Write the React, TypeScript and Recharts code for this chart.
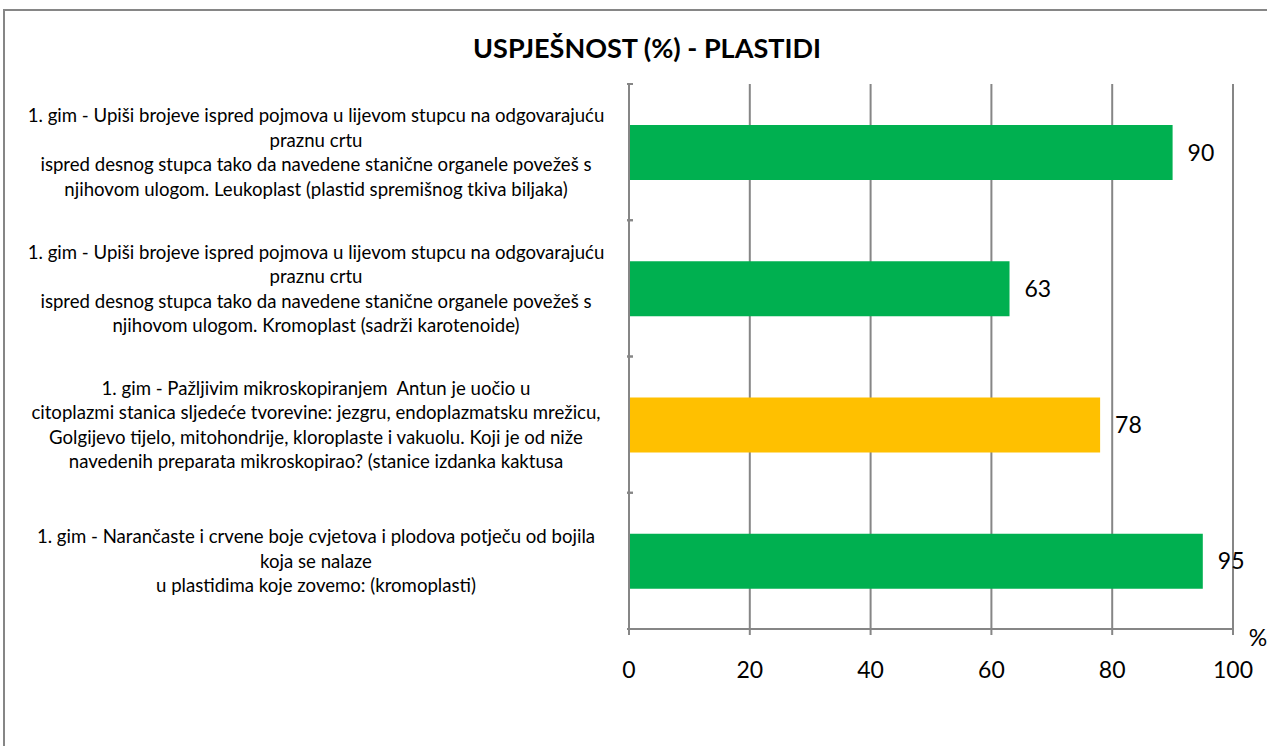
import React from 'react'
import { BarChart, Bar, XAxis, YAxis, CartesianGrid, Cell, LabelList } from 'recharts'

const categories = [
  '1. gim - Upiši brojeve ispred pojmova u lijevom stupcu na odgovarajuću\npraznu crtu\nispred desnog stupca tako da navedene stanične organele povežeš s\nnjihovom ulogom. Leukoplast (plastid spremišnog tkiva biljaka)',
  '1. gim - Upiši brojeve ispred pojmova u lijevom stupcu na odgovarajuću\npraznu crtu\nispred desnog stupca tako da navedene stanične organele povežeš s\nnjihovom ulogom. Kromoplast (sadrži karotenoide)',
  '1. gim - Pažljivim mikroskopiranjem  Antun je uočio u\ncitoplazmi stanica sljedeće tvorevine: jezgru, endoplazmatsku mrežicu,\nGolgijevo tijelo, mitohondrije, kloroplaste i vakuolu. Koji je od niže\nnavedenih preparata mikroskopirao? (stanice izdanka kaktusa',
  '1. gim - Narančaste i crvene boje cvjetova i plodova potječu od bojila\nkoja se nalaze\nu plastidima koje zovemo: (kromoplasti)',
]
const values = [90, 63, 78, 95]
const barColors = ['#00B050', '#00B050', '#FFC000', '#00B050']
const xTicks = [0, 20, 40, 60, 80, 100]

const data = categories.map((name, i) => ({ name, value: values[i] }))

const FONT = 'Lato, "Open Sans", sans-serif'
const GRID = '#868686'

function CategoryTick(props: any) {
  const { x, y, payload } = props
  const lines: string[] = String(payload.value).split('\n')
  const lh = 24.5
  const half = payload.offset || 68
  const top = y - ((lines.length - 1) * lh) / 2
  return (
    <g>
      <line x1={x + 6} x2={x + 12} y1={y - half} y2={y - half} stroke={GRID} strokeWidth={2} />
      <line x1={x + 6} x2={x + 12} y1={y + half} y2={y + half} stroke={GRID} strokeWidth={2} />
      <text x={316} y={top} textAnchor="middle" dominantBaseline="central" fontSize={18.6} fontFamily={FONT} fill="#000" style={{ whiteSpace: 'pre' }}>
        {lines.map((l, i) => (
          <tspan key={i} x={316} y={top + i * lh}>{l}</tspan>
        ))}
      </text>
    </g>
  )
}

export default function App() {
  return (
    <div style={{ position: 'absolute', left: 0, top: 0, width: 1267, height: 746, overflow: 'hidden', background: '#fff' }}>
      <div style={{ position: 'absolute', left: 3, top: 9, width: 1300, height: 760, border: `2px solid ${GRID}` }} />
      <div style={{ position: 'absolute', left: 0, top: 31, width: 1294, textAlign: 'center', fontFamily: FONT, fontWeight: 'bold', fontSize: 27, lineHeight: '34px', color: '#000' }}>
        USPJEŠNOST (%) - PLASTIDI
      </div>
      <div style={{ position: 'absolute', left: 0, top: 0 }}>
        <BarChart
          width={1267}
          height={746}
          data={data}
          layout="vertical"
          barCategoryGap="30%"
          margin={{ top: 84, right: 34, bottom: 87, left: 0 }}
        >
          <CartesianGrid horizontal={false} vertical={true} stroke={GRID} strokeWidth={2} />
          <XAxis
            type="number"
            domain={[0, 100]}
            ticks={xTicks}
            height={30}
            axisLine={{ stroke: GRID, strokeWidth: 2 }}
            tickLine={{ stroke: GRID, strokeWidth: 2 }}
            tickSize={6}
            tickMargin={27}
            tick={{ fontSize: 23, fontFamily: FONT, fill: '#000' }}
            label={(p: any) => {
              const vb = p.viewBox || {}
              return (
                <text x={vb.x + vb.width + 25} y={vb.y + 8} textAnchor="middle" dominantBaseline="central" fontSize={23} fontFamily={FONT} fill="#000">%</text>
              )
            }}
          />
          <YAxis
            type="category"
            dataKey="name"
            width={629}
            axisLine={{ stroke: GRID, strokeWidth: 2 }}
            tickLine={false}
            tick={<CategoryTick />}
            interval={0}
          />
          <Bar dataKey="value" isAnimationActive={false}>
            {data.map((_, i) => (
              <Cell key={i} fill={barColors[i]} />
            ))}
            <LabelList dataKey="value" position="right" offset={15} fontSize={23} fontFamily={FONT} fill="#000" />
          </Bar>
        </BarChart>
      </div>
    </div>
  )
}
